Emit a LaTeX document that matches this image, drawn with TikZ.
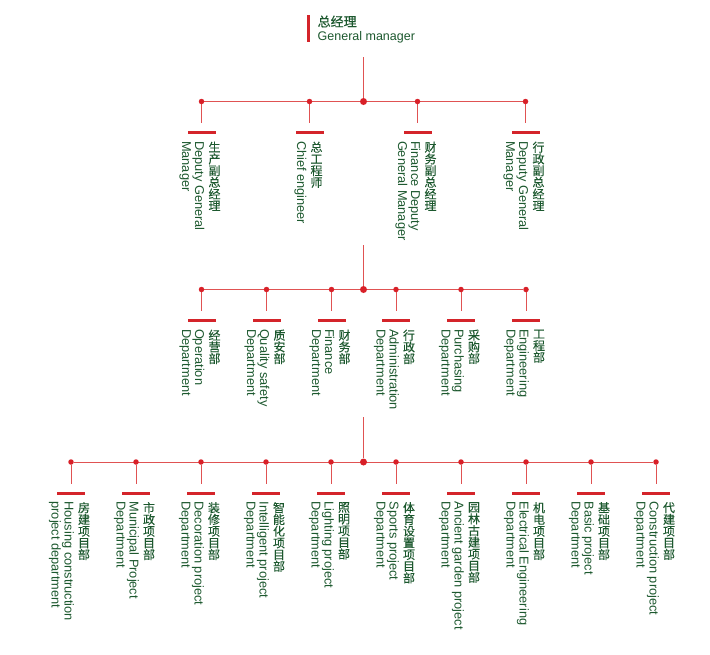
\documentclass[tikz,border=0pt]{standalone}
\usepackage{fontspec}
\setmainfont{Liberation Sans}
\newfontfamily\cjk[FakeBold=0.2]{Noto Sans CJK SC}
\newfontfamily\cjkheavy[FakeBold=0.7]{Noto Sans CJK SC}
\definecolor{txtgreen}{RGB}{28,88,46}
\definecolor{dotred}{RGB}{216,32,40}
\definecolor{linered}{RGB}{224,82,82}
\definecolor{barred}{RGB}{212,36,42}
\pgfdeclarelayer{background}
\pgfsetlayers{background,main}

\tikzset{
  en/.style={font=\fontsize{12.8}{13}\selectfont, text=txtgreen, rotate=-90,
             anchor=base west, inner sep=0pt, outer sep=0pt},
  cn/.style={font=\cjk\fontsize{12}{11.7}\selectfont, text=txtgreen,
             align=center, anchor=north, inner sep=0pt},
  hub/.style={circle, fill=dotred, inner sep=0pt, minimum size=7pt},
  tap/.style={circle, fill=dotred, inner sep=0pt, minimum size=5.5pt},
  rule/.style={fill=barred, inner sep=0pt, minimum width=28pt, minimum height=3pt},
  link/.style={draw=linered, line width=0.9pt},
}

% One box of the chart: tap on the bus, drop, red rule and the
% vertical labels (Chinese column plus two English lines).
% #1 name, #2 x of the tap, #3 y of the bus, #4 Chinese, #5/#6 English lines
\newcommand\orgunit[6]{%
  \node[tap] (#1) at (#2,#3) {};
  \node[rule] (#1-bar) at (#2,#3+31) {};
  \coordinate (#1-foot) at (#2,#3+21.5);
  \begin{pgfonlayer}{background}\draw[link] (#1) -- (#1-foot);\end{pgfonlayer}
  \node[cn] (#1-cn) at (#2+13,#3+40) {#4};
  \node[en] (#1-en1) at (#2-6.5,#3+39.5) {#5};
  \node[en] (#1-en2) at (#2-19.5,#3+39.5) {#6};
}
% Same, with a single English line
\newcommand\orgunitone[5]{%
  \node[tap] (#1) at (#2,#3) {};
  \node[rule] (#1-bar) at (#2,#3+31) {};
  \coordinate (#1-foot) at (#2,#3+21.5);
  \begin{pgfonlayer}{background}\draw[link] (#1) -- (#1-foot);\end{pgfonlayer}
  \node[cn] (#1-cn) at (#2+7,#3+40) {#4};
  \node[en] (#1-en1) at (#2-12.5,#3+39.5) {#5};
}

\begin{document}
\begin{tikzpicture}[x=1pt,y=-1pt]
\useasboundingbox (0,0) rectangle (710,654);

% ---- head of the company
\node[fill=barred, inner sep=0pt, minimum width=2.5pt, minimum height=27pt] (gm-bar) at (308.3,28.5) {};
\node[font=\cjkheavy\fontsize{13}{15}\selectfont, text=txtgreen, anchor=base west, inner sep=0pt] (gm-cn) at (317.5,26.5) {总经理};
\node[font=\fontsize{12.5}{14}\selectfont, text=txtgreen, anchor=base west, inner sep=0pt] (gm-en) at (317.5,40.7) {General manager};
\coordinate (gm-foot) at (363.5,57);

% ---- first level: deputies
\node[hub] (hub1) at (363.5,101.5) {};
\orgunit{prod}{201.5}{101.5}{生\\产\\副\\总\\经\\理}{Deputy General}{Manager}
\orgunitone{chief}{309.5}{101.5}{总\\工\\程\\师}{Chief engineer}
\orgunit{fin}{417.5}{101.5}{财\\务\\副\\总\\经\\理}{Finance Deputy}{General Manager}
\orgunit{adm}{525.5}{101.5}{行\\政\\副\\总\\经\\理}{Deputy General}{Manager}

% ---- second level: departments
\coordinate (r2-top) at (363.5,245);
\node[hub] (hub2) at (363.5,289.5) {};
\orgunit{oper}{201.5}{289.5}{经\\营\\部}{Operation}{Department}
\orgunit{qual}{266.5}{289.5}{质\\安\\部}{Quality safety}{Department}
\orgunit{fina}{331.5}{289.5}{财\\务\\部}{Finance}{Department}
\orgunit{admi}{396}{289.5}{行\\政\\部}{Administration}{Department}
\orgunit{purc}{461}{289.5}{采\\购\\部}{Purchasing}{Department}
\orgunit{engi}{526}{289.5}{工\\程\\部}{Engineering}{Department}

% ---- third level: project departments
\coordinate (r3-top) at (363.5,417);
\node[hub] (hub3) at (363.5,462) {};
\orgunit{hous}{71}{462}{房\\建\\项\\目\\部}{Housing construction}{project department}
\orgunit{muni}{136}{462}{市\\政\\项\\目\\部}{Municipal Project}{Department}
\orgunit{deco}{201}{462}{装\\修\\项\\目\\部}{Decoration project}{Department}
\orgunit{inte}{266}{462}{智\\能\\化\\项\\目\\部}{Intelligent project}{Department}
\orgunit{ligh}{331}{462}{照\\明\\项\\目\\部}{Lighting project}{Department}
\orgunit{spor}{396}{462}{体\\育\\设\\置\\项\\目\\部}{Sports project}{Department}
\orgunit{anci}{461}{462}{园\\林\\古\\建\\项\\目\\部}{Ancient garden project}{Department}
\orgunit{elec}{526}{462}{机\\电\\项\\目\\部}{Electrical Engineering}{Department}
\orgunit{basi}{591}{462}{基\\础\\项\\目\\部}{Basic project}{Department}
\orgunit{cons}{656}{462}{代\\建\\项\\目\\部}{Construction project}{Department}

% ---- trunks and buses
\begin{pgfonlayer}{background}
  \draw[link] (gm-foot) -- (hub1);
  \draw[link] (prod) -- (adm);
  \draw[link] (r2-top) -- (hub2);
  \draw[link] (oper) -- (engi);
  \draw[link] (r3-top) -- (hub3);
  \draw[link] (hous) -- (cons);
\end{pgfonlayer}
\end{tikzpicture}
\end{document}
